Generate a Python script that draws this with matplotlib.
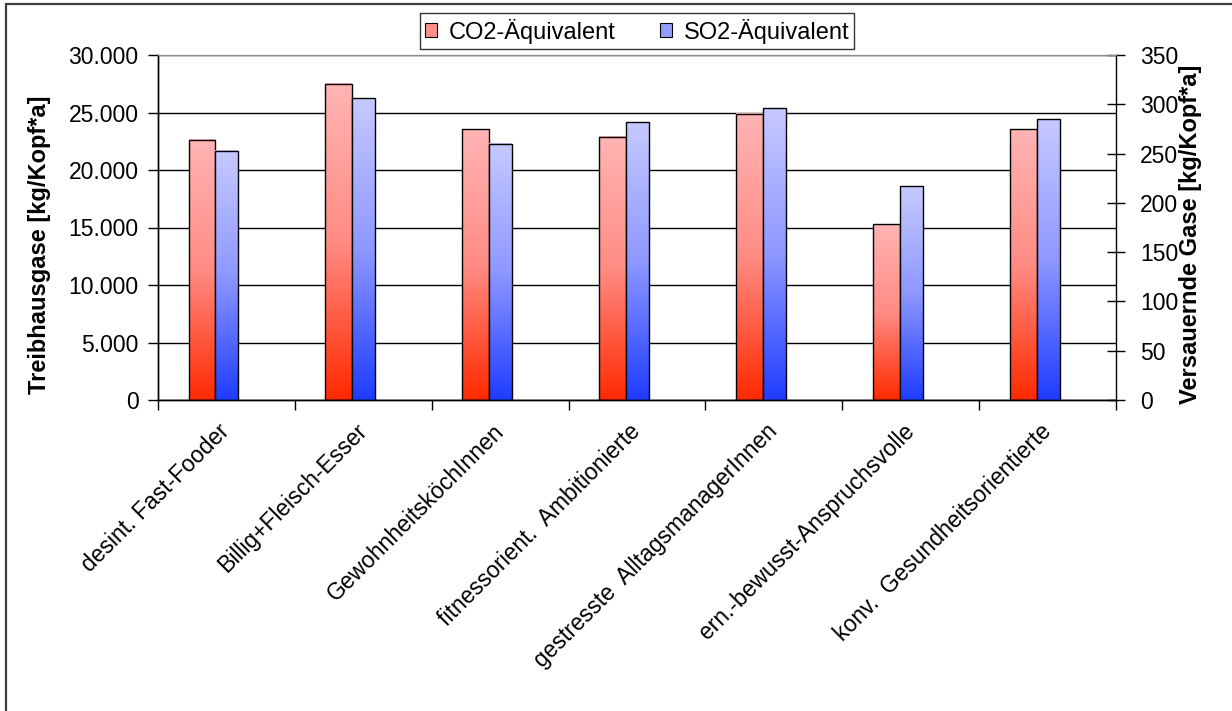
import numpy as np
import matplotlib
matplotlib.use("Agg")
import matplotlib.pyplot as plt
from matplotlib.colors import LinearSegmentedColormap
from matplotlib.patches import Patch, Rectangle
from matplotlib.ticker import FuncFormatter, MultipleLocator

plt.rcParams['font.family'] = ['Liberation Sans', 'DejaVu Sans']

# --- data ---
gruppen = ["desint. Fast-Fooder", "Billig+Fleisch-Esser", "GewohnheitsköchInnen",
           "fitnessorient.  Ambitionierte", "gestresste  AlltagsmanagerInnen",
           "ern.-bewusst-Anspruchsvolle", "konv.  Gesundheitsorientierte"]
co2 = [22650, 27500, 23550, 22900, 24900, 15300, 23550]   # kg/Kopf*a
so2 = [253, 306, 260, 282, 296, 217, 285]                 # kg/Kopf*a

# --- colours ---
red_cmap = LinearSegmentedColormap.from_list(
    "rot", [(0.0, "#ff2a00"), (0.5, "#ff8c84"), (1.0, "#ffb4b4")])
blue_cmap = LinearSegmentedColormap.from_list(
    "blau", [(0.0, "#1e3cff"), (0.5, "#8e98ff"), (1.0, "#c6c9ff")])

W, H = 1232, 711
fig = plt.figure(figsize=(W / 100, H / 100), dpi=100)
ax1 = fig.add_axes([158 / W, 1 - 400 / H, (1116 - 158) / W, 345 / H])
ax2 = ax1.twinx()

grad = np.linspace(0, 1, 256).reshape(-1, 1)


def gradient_bars(ax, xs, heights, width, cmap):
    for x, h in zip(xs, heights):
        ax.imshow(grad, extent=(x - width / 2, x + width / 2, 0, h), origin='lower',
                  aspect='auto', cmap=cmap, zorder=2, interpolation='bilinear')
    ax.bar(xs, heights, width=width, fill=False, edgecolor='black', linewidth=1.0, zorder=3)


x = np.arange(len(gruppen))
gradient_bars(ax1, x - 0.1785, co2, 0.197, red_cmap)
gradient_bars(ax2, x + 0.004, so2, 0.168, blue_cmap)

# --- axes ---
ax1.set_xlim(-0.5, len(gruppen) - 0.5)
ax1.set_ylim(0, 30000)
ax2.set_ylim(0, 350)

ax1.yaxis.set_major_locator(MultipleLocator(5000))
ax1.yaxis.set_major_formatter(FuncFormatter(lambda v, p: f"{int(v):,}".replace(",", ".")))
ax2.yaxis.set_major_locator(MultipleLocator(50))

ax1.set_axisbelow(True)
ax1.yaxis.grid(True, color='black', linewidth=1.0)

ax1.set_xticks(x)
ax1.set_xticklabels(gruppen, rotation=45, ha='right', va='center', rotation_mode='anchor')
ax1.set_xticks(np.arange(-0.5, len(gruppen)), minor=True)
ax1.tick_params(axis='x', which='major', length=0, pad=20, labelsize=16.5)
ax1.tick_params(axis='x', which='minor', length=7, width=1, direction='out', color='black')
ax1.tick_params(axis='y', length=7, width=1, direction='out', pad=7, labelsize=16.5)
ax2.tick_params(axis='y', length=13, width=1, direction='inout', pad=11, labelsize=16.5)

for a in (ax1, ax2):
    a.spines['top'].set_color('#8c8c8c')
    for s in ('left', 'right', 'bottom'):
        a.spines[s].set_color('black')
        a.spines[s].set_linewidth(1.0)
ax1.spines['right'].set_visible(False)

fig.text(40 / W, 1 - 245 / H, "Treibhausgase [kg/Kopf*a]", rotation=90,
         ha='center', va='center', fontsize=17, fontweight='bold')
fig.text(1191 / W, 1 - 234 / H, "Versauernde Gase [kg/Kopf*a]", rotation=90,
         ha='center', va='center', fontsize=17, fontweight='bold')

# --- legend ---
handles = [Patch(facecolor=red_cmap(0.55), edgecolor='black', linewidth=0.8),
           Patch(facecolor=blue_cmap(0.55), edgecolor='black', linewidth=0.8)]
leg = fig.legend(handles, ["CO2-Äquivalent", "SO2-Äquivalent"], ncol=2,
                 loc='center', bbox_to_anchor=(637 / W, 1 - 31 / H),
                 fontsize=17, frameon=True, fancybox=False, shadow=False,
                 handlelength=0.5, handleheight=0.5, handletextpad=0.5,
                 columnspacing=1.9, borderpad=0.22, borderaxespad=0)
leg.get_frame().set_edgecolor('black')
leg.get_frame().set_linewidth(1.0)

# chart area frame
fig.patches.append(Rectangle((6 / W, -0.1), 1.2, 1.1 - 4 / H, transform=fig.transFigure,
                             fill=False, edgecolor='#3c3c3c', linewidth=1.6, zorder=0))

fig.savefig("out.png", dpi=100)
